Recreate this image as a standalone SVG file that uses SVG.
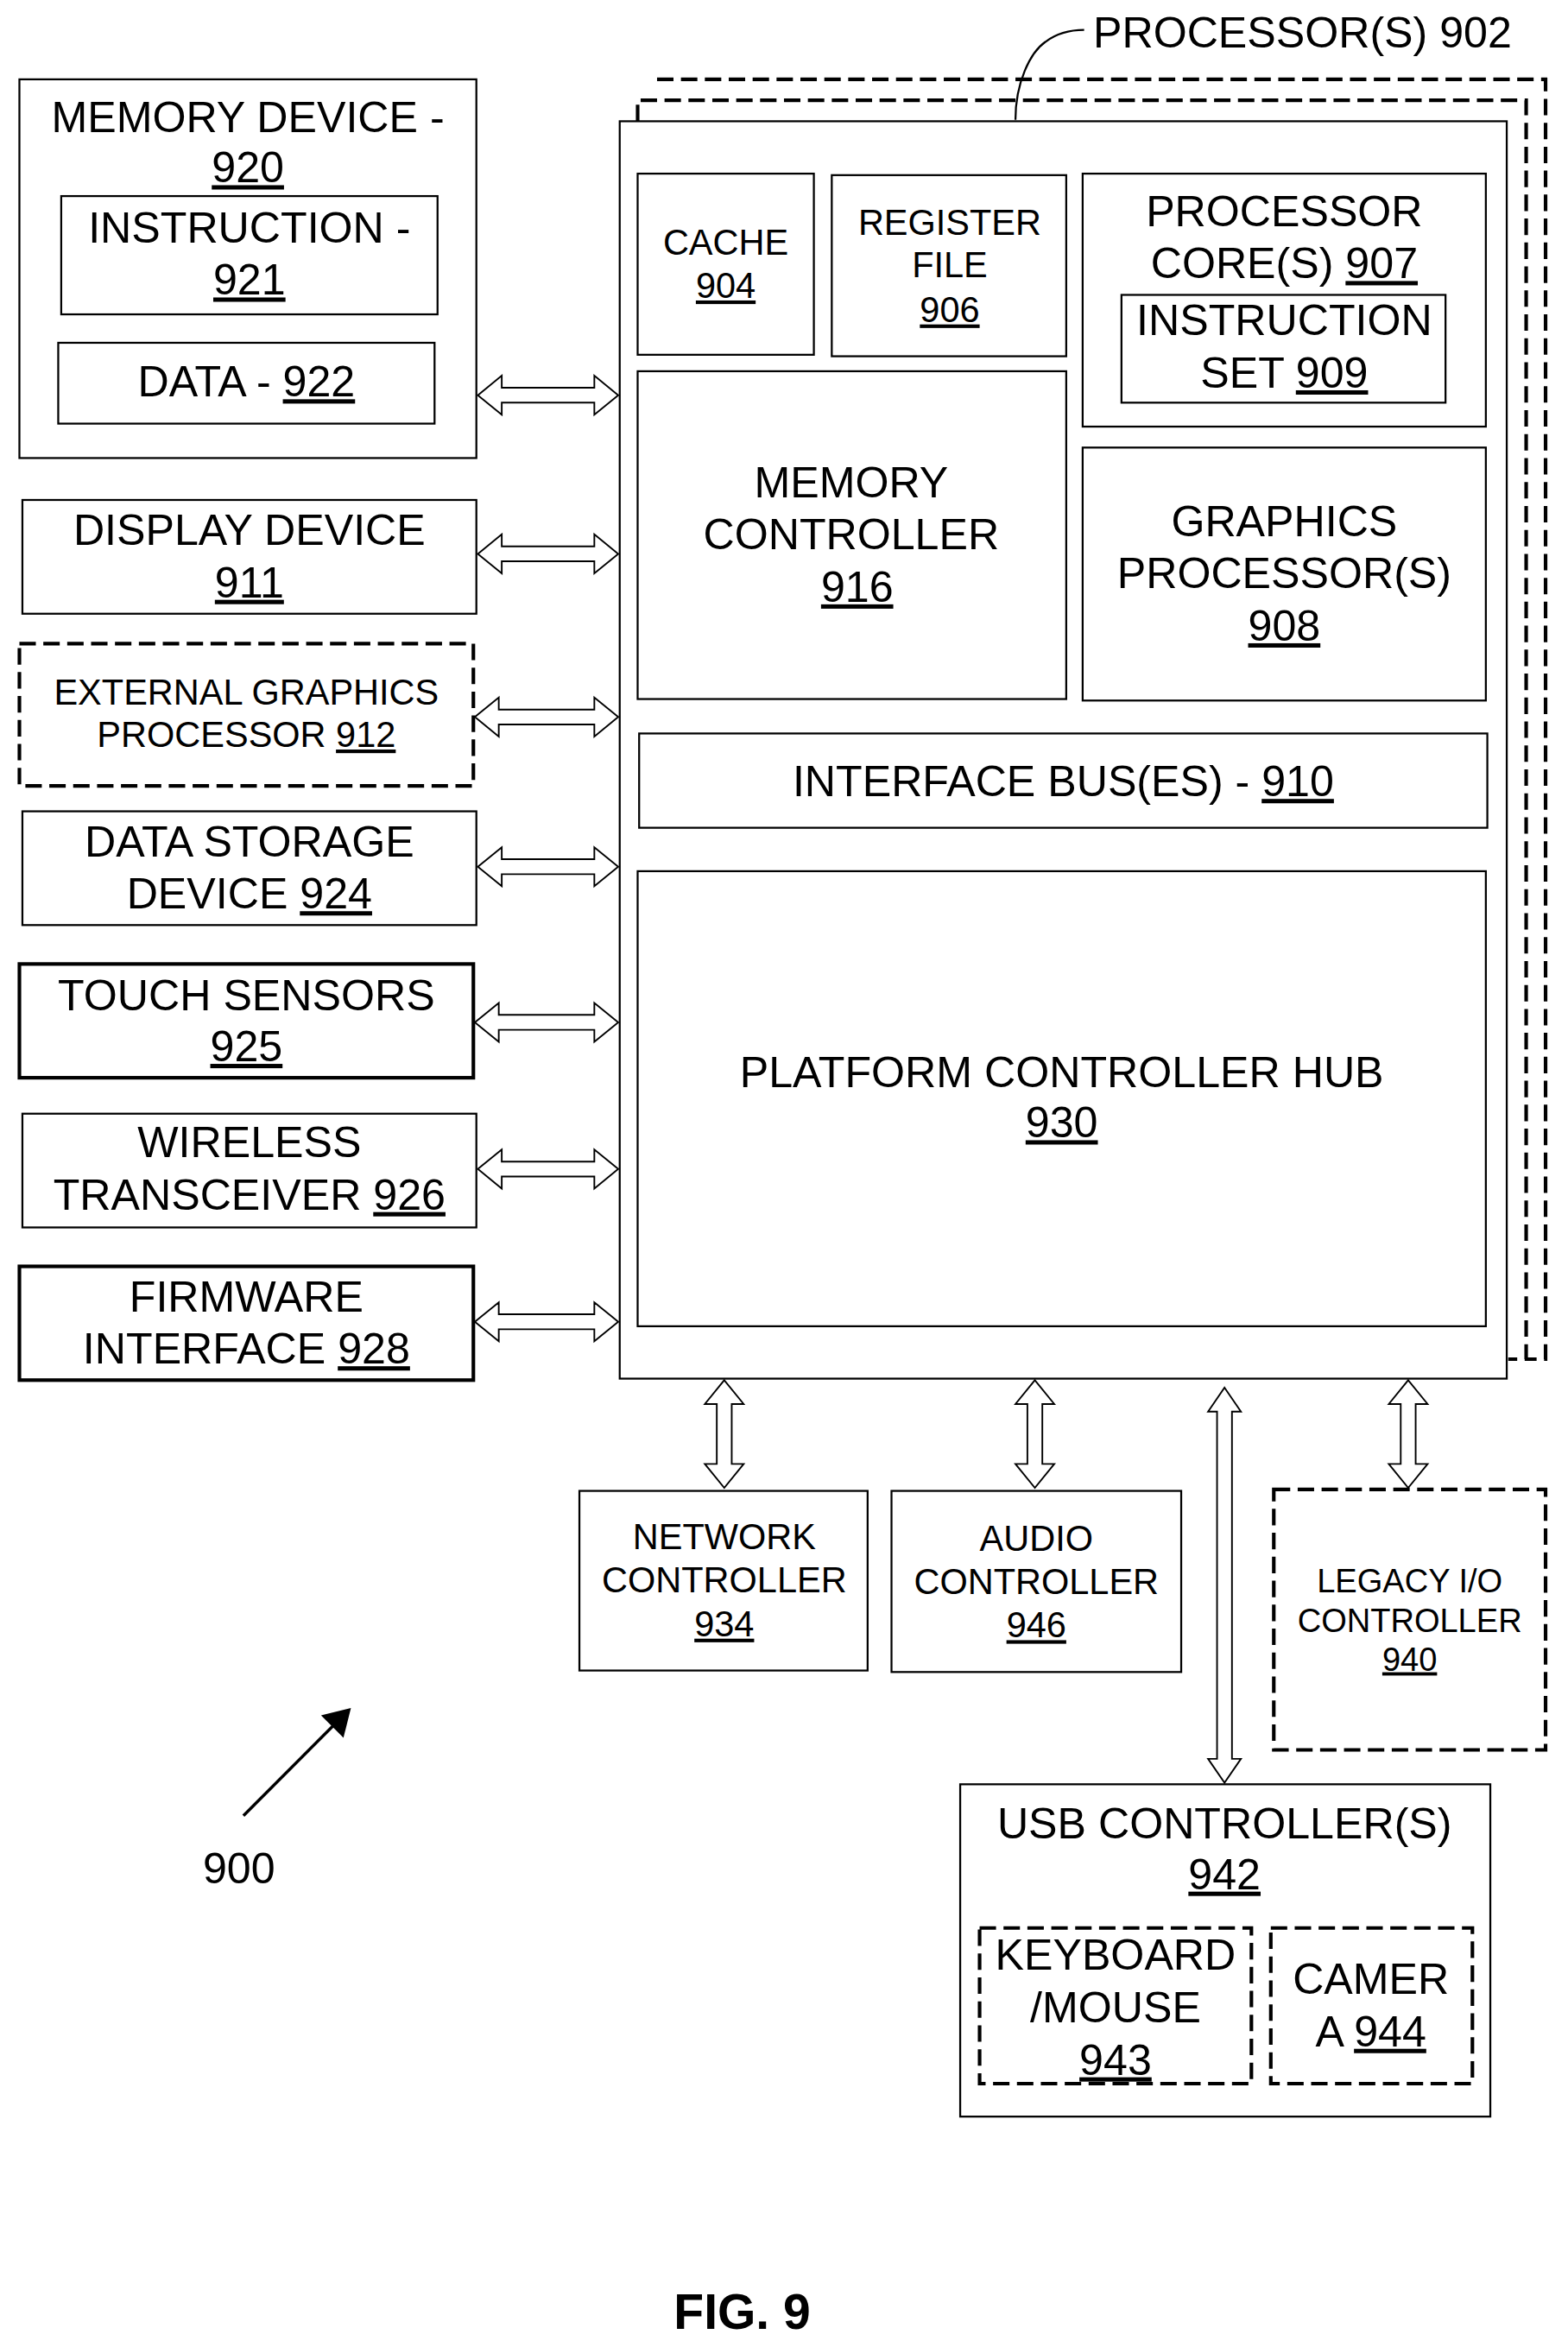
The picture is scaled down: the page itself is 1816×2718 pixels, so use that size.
<svg xmlns="http://www.w3.org/2000/svg" width="1816" height="2718" viewBox="0 0 1816 2718">
<style>
.b{fill:none;stroke:#000;stroke-width:1.3}
.t{fill:none;stroke:#000;stroke-width:2.4}
.d{fill:none;stroke:#000;stroke-width:2.4;stroke-dasharray:11 5}
.a{fill:#fff;stroke:#000;stroke-width:1.1}
text{font-family:"Liberation Sans",Arial,sans-serif;font-size:29px;text-anchor:middle;fill:#000}
.s{font-size:24px}
.xs{font-size:22px}
.u{text-decoration:underline}
</style>
<rect width="1816" height="2718" fill="#fff"/>
<g transform="scale(1.7295,1.7335)">
<g id="n920"><rect class="b" x="13" y="53" width="306" height="253"/><text x="166" y="88">MEMORY DEVICE -</text><text x="166" y="122" class="u">920</text></g>
<g id="n921"><rect class="b" x="41" y="131" width="252" height="79"/><text x="167" y="162">INSTRUCTION -</text><text x="167" y="197" class="u">921</text></g>
<g id="n922"><rect class="b" x="39" y="229" width="252" height="54"/><text x="165" y="265">DATA - <tspan class="u">922</tspan></text></g>
<g id="n911"><rect class="b" x="15" y="334" width="304" height="76"/><text x="167" y="364">DISPLAY DEVICE</text><text x="167" y="399" class="u">911</text></g>
<g id="n912"><rect class="d" x="13" y="430" width="304" height="95"/><text class="s" x="165" y="471">EXTERNAL GRAPHICS</text><text class="s" x="165" y="499">PROCESSOR <tspan class="u">912</tspan></text></g>
<g id="n924"><rect class="b" x="15" y="542" width="304" height="76"/><text x="167" y="572">DATA STORAGE</text><text x="167" y="607">DEVICE <tspan class="u">924</tspan></text></g>
<g id="n925"><rect class="t" x="13" y="644" width="304" height="76"/><text x="165" y="675">TOUCH SENSORS</text><text x="165" y="709" class="u">925</text></g>
<g id="n926"><rect class="b" x="15" y="744" width="304" height="76"/><text x="167" y="773">WIRELESS</text><text x="167" y="808">TRANSCEIVER <tspan class="u">926</tspan></text></g>
<g id="n928"><rect class="t" x="13" y="846" width="304" height="76"/><text x="165" y="876">FIRMWARE</text><text x="165" y="911">INTERFACE <tspan class="u">928</tspan></text></g>
<g id="n902"><path class="d" d="M440,53 H1035 V908 H1022"/><path class="d" d="M427,81 V67 H1022 V908 H1010"/><rect class="b" x="415" y="81" width="594" height="840" fill="#fff"/>
<path class="b" d="M680,80 C680,55 690,35 700,28 C708,22 716,20 726,20"/><text x="732" y="32" style="text-anchor:start">PROCESSOR(S) 902</text></g>
<g id="n904"><rect class="b" x="427" y="116" width="118" height="121"/><text class="s" x="486" y="170">CACHE</text><text class="s u" x="486" y="199">904</text></g>
<g id="n906"><rect class="b" x="557" y="117" width="157" height="121"/><text class="s" x="636" y="157">REGISTER</text><text class="s" x="636" y="185">FILE</text><text class="s u" x="636" y="215">906</text></g>
<g id="n907"><rect class="b" x="725" y="116" width="270" height="169"/><text x="860" y="151">PROCESSOR</text><text x="860" y="186">CORE(S) <tspan class="u">907</tspan></text></g>
<g id="n909"><rect class="b" x="751" y="197" width="217" height="72"/><text x="860" y="224">INSTRUCTION</text><text x="860" y="259">SET <tspan class="u">909</tspan></text></g>
<g id="n916"><rect class="b" x="427" y="248" width="287" height="219"/><text x="570" y="332">MEMORY</text><text x="570" y="367">CONTROLLER</text><text x="574" y="402" class="u">916</text></g>
<g id="n908"><rect class="b" x="725" y="299" width="270" height="169"/><text x="860" y="358">GRAPHICS</text><text x="860" y="393">PROCESSOR(S)</text><text x="860" y="428" class="u">908</text></g>
<g id="n910"><rect class="b" x="428" y="490" width="568" height="63"/><text x="712" y="532">INTERFACE BUS(ES) - <tspan class="u">910</tspan></text></g>
<g id="n930"><rect class="b" x="427" y="582" width="568" height="304"/><text x="711" y="726">PLATFORM CONTROLLER HUB</text><text x="711" y="760" class="u">930</text></g>
<g id="n934"><rect class="b" x="388" y="996" width="193" height="120"/><text class="s" x="485" y="1035">NETWORK</text><text class="s" x="485" y="1064">CONTROLLER</text><text class="s u" x="485" y="1093">934</text></g>
<g id="n946"><rect class="b" x="597" y="996" width="194" height="121"/><text class="s" x="694" y="1036">AUDIO</text><text class="s" x="694" y="1065">CONTROLLER</text><text class="s u" x="694" y="1094">946</text></g>
<g id="n940"><rect class="d" x="853" y="995" width="182" height="174"/><text class="xs" x="944" y="1064">LEGACY I/O</text><text class="xs" x="944" y="1090">CONTROLLER</text><text class="xs u" x="944" y="1116">940</text></g>
<g id="n942"><rect class="b" x="643" y="1192" width="355" height="222"/><text x="820" y="1228">USB CONTROLLER(S)</text><text x="820" y="1262" class="u">942</text></g>
<g id="n943"><rect class="d" x="656" y="1288" width="182" height="104"/><text x="747" y="1316">KEYBOARD</text><text x="747" y="1351">/MOUSE</text><text x="747" y="1386" class="u">943</text></g>
<g id="n944"><rect class="d" x="851" y="1288" width="135" height="104"/><text x="918" y="1332">CAMER</text><text x="918" y="1367">A <tspan class="u">944</tspan></text></g>
<g id="connectors">
<path class="a" d="M320,264 L336,251 V259 H398 V251 L414,264 L398,277 V269 H336 V277 Z"/>
<path class="a" d="M320,370 L336,357 V365 H398 V357 L414,370 L398,383 V375 H336 V383 Z"/>
<path class="a" d="M318,479 L334,466 V474 H398 V466 L414,479 L398,492 V484 H334 V492 Z"/>
<path class="a" d="M320,579 L336,566 V574 H398 V566 L414,579 L398,592 V584 H336 V592 Z"/>
<path class="a" d="M318,683 L334,670 V678 H398 V670 L414,683 L398,696 V688 H334 V696 Z"/>
<path class="a" d="M320,781 L336,768 V776 H398 V768 L414,781 L398,794 V786 H336 V794 Z"/>
<path class="a" d="M318,883 L334,870 V878 H398 V870 L414,883 L398,896 V888 H334 V896 Z"/>
<path class="a" d="M485,922 L498,938 H490 V978 H498 L485,994 L472,978 H480 V938 H472 Z"/>
<path class="a" d="M693,922 L706,938 H698 V978 H706 L693,994 L680,978 H688 V938 H680 Z"/>
<path class="a" d="M943,922 L956,938 H948 V978 H956 L943,994 L930,978 H938 V938 H930 Z"/>
<path class="a" d="M820,927 L831,943 H825 V1175 H831 L820,1191 L809,1175 H815 V943 H809 Z"/>
</g>
<g id="n900"><line x1="163" y1="1213" x2="226" y2="1150" stroke="#000" stroke-width="2"/><path d="M235,1141 L230,1161 L215,1146 Z"/><text x="160" y="1258">900</text></g>
<text x="497" y="1556" style="font-weight:bold;font-size:33px">FIG. 9</text>
</g>
</svg>
